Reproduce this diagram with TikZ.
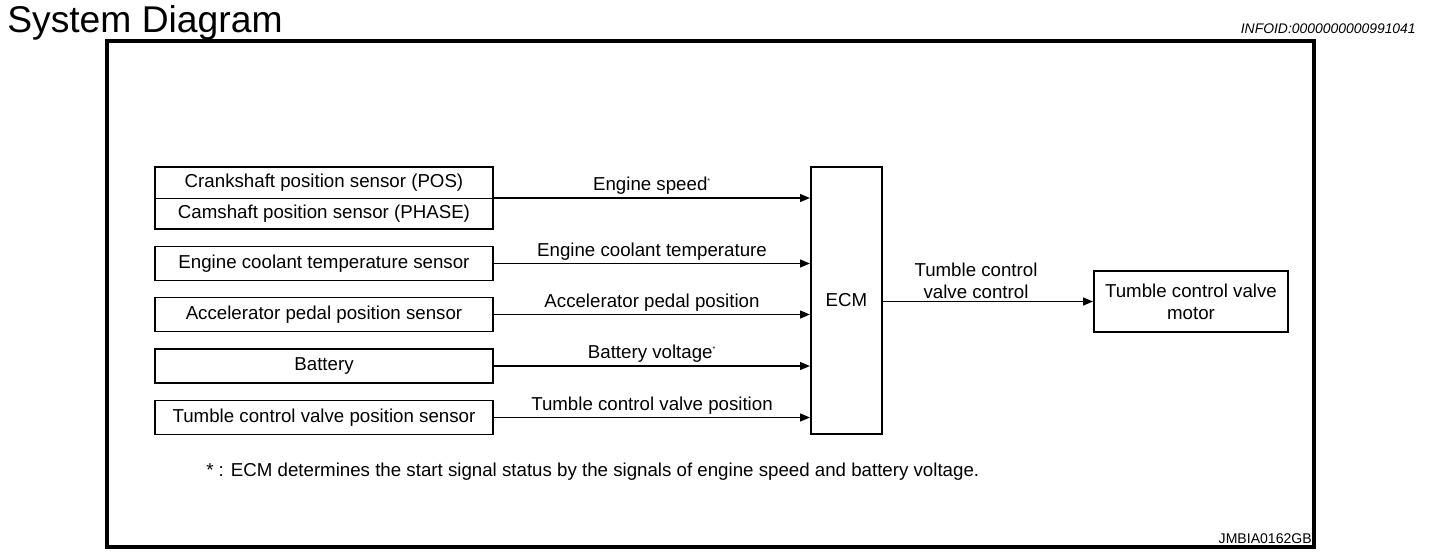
\documentclass[tikz,border=0pt]{standalone}
\usepackage{fontspec}
\setmainfont{Liberation Sans}
\usetikzlibrary{arrows.meta,positioning}
\def\px{0.25mm}
\tikzset{
  boxfont/.style={font=\fontsize{13.3}{15.6}\selectfont},
  unit/.style={draw,line width=1.4pt,minimum width=338*\px,minimum height=34*\px,inner sep=0pt,boxfont},
  sig/.style={-{Triangle[length=7pt,width=5.5pt]},line width=1.1pt},
  siglabel/.style={above,inner sep=1.8pt,boxfont}
}
\begin{document}
\begin{tikzpicture}[x=\px,y=-\px]
  \useasboundingbox (0,0) rectangle (1440,560);
  % heading and frame
  \node[anchor=base west,inner sep=0,font=\fontsize{26.5}{30}\selectfont] (title) at (7,33) {System Diagram};
  \node[anchor=base east,inner sep=0,font=\fontsize{9.9}{11}\selectfont\itshape] (infoid) at (1416,34) {INFOID:0000000000991041};
  \draw[line width=2.6pt] (107,41) rectangle (1314,547);
  \node[anchor=base east,inner sep=0,font=\fontsize{10}{12}\selectfont] (figid) at (1312,543) {JMBIA0162GB};
  % sensors
  \node[unit,minimum height=62*\px] (posbox) at (324,198) {};
  \node[boxfont] (crank) at (324,183) {Crankshaft position sensor (POS)};
  \node[boxfont] (cam) at (324,214) {Camshaft position sensor (PHASE)};
  \draw[line width=0.7pt] (posbox.west) -- (posbox.east);
  \node[unit] (ect) at (324,263.5) {Engine coolant temperature sensor};
  \node[unit] (aps) at (324,314.5) {Accelerator pedal position sensor};
  \node[unit] (batt) at (324,366) {Battery};
  \node[unit] (tcvs) at (324,417.5) {Tumble control valve position sensor};
  % ECM and actuator
  \node[draw,line width=1.4pt,minimum width=71*\px,minimum height=267*\px,boxfont] (ecm) at (846.5,300.5) {ECM};
  \node[draw,line width=1.4pt,minimum width=194*\px,minimum height=61*\px,align=center,inner sep=0pt,boxfont] (motor) at (1191,301.5) {Tumble control valve\\motor};
  % signals
  \draw[sig] (posbox.east) -- (posbox.east -| ecm.west) node[siglabel,midway] {Engine speed\textsuperscript{\tiny*}};
  \draw[sig] (ect.east) -- (ect.east -| ecm.west) node[siglabel,midway] {Engine coolant temperature};
  \draw[sig] (aps.east) -- (aps.east -| ecm.west) node[siglabel,midway] {Accelerator pedal position};
  \draw[sig] (batt.east) -- (batt.east -| ecm.west) node[siglabel,midway] {Battery voltage\textsuperscript{\tiny*}};
  \draw[sig] (tcvs.east) -- (tcvs.east -| ecm.west) node[siglabel,midway] {Tumble control valve position};
  \draw[sig] (ecm.east |- motor.west) -- (motor.west) node[siglabel,midway,align=center,xshift=-12*\px] {Tumble control\\valve control};
  % footnote
  \node[anchor=base west,inner sep=0,boxfont] (note) at (206,476) {* : ECM determines the start signal status by the signals of engine speed and battery voltage.};
\end{tikzpicture}
\end{document}
